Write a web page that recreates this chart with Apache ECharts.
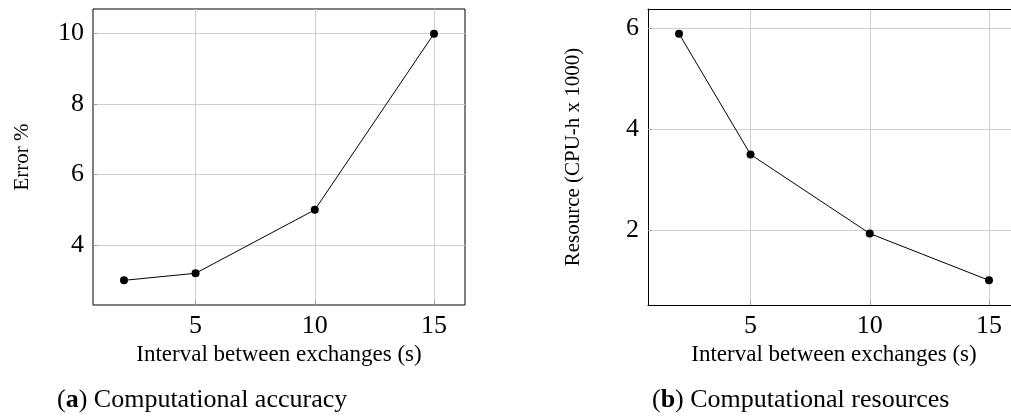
<!DOCTYPE html>
<html>
<head>
<meta charset="utf-8">
<script src="https://cdn.jsdelivr.net/npm/echarts@6/dist/echarts.min.js"></script>
<style>
html,body{margin:0;padding:0;background:#fff;}
#c{width:1011px;height:416px;}
</style>
</head>
<body>
<div id="c"></div>
<script>
const intervals = [2, 5, 10, 15];
const errorPct = [3.0, 3.2, 5.0, 10.0];
const resource = [5.9, 3.5, 1.93, 1.0];
const xTicks = [5, 10, 15];
const yTicksA = [4, 6, 8, 10];
const yTicksB = [2, 4, 6];
const xTitle = 'Interval between exchanges (s)';
const yTitleA = 'Error %';
const yTitleB = 'Resource (CPU-h x 1000)';
const captionA = ['a', 'Computational accuracy'];
const captionB = ['b', 'Computational resources'];

const FONT = '"Liberation Serif", "DejaVu Serif", serif';
const chart = echarts.init(document.getElementById('c'), null, {renderer: 'canvas'});

// x range: full axis 0.7..16.3 over 372px; right panel is cut by the page edge
const X_MIN = 0.7, X_MAX = 16.3, PLOT_W = 372, LEFT_B = 648;
const X_MAX_B = X_MIN + (X_MAX - X_MIN) * (1011 - LEFT_B) / PLOT_W;

function xAxisDef(idx, mx, showLine) {
  return {
    type: 'value', gridIndex: idx, min: X_MIN, max: mx,
    name: xTitle, nameLocation: 'middle', nameGap: 33,
    nameTextStyle: {fontFamily: FONT, fontSize: 23, color: '#000',
      padding: idx === 1 ? [0, 0, 0, (LEFT_B + PLOT_W - 1011)] : 0},
    axisLine: {show: showLine, onZero: false, lineStyle: {color: '#000', width: 1}},
    axisTick: {show: true, inside: true, length: 4, customValues: xTicks, lineStyle: {color: '#999'}},
    axisLabel: {customValues: xTicks, fontFamily: FONT, fontSize: 26, color: '#000', margin: 8},
    splitLine: {show: true, lineStyle: {color: '#cfcfcf', width: 1}}
  };
}
function yAxisDef(idx, mn, mx, ticks, name, gap, showLine) {
  return {
    type: 'value', gridIndex: idx, min: mn, max: mx,
    name: name, nameLocation: 'middle', nameGap: gap,
    nameTextStyle: {fontFamily: FONT, fontSize: 21, color: '#000'},
    axisLine: {show: showLine, onZero: false, lineStyle: {color: '#000', width: 1}},
    axisTick: {show: true, inside: true, length: 4, customValues: ticks, lineStyle: {color: '#999'}},
    axisLabel: {customValues: ticks, fontFamily: FONT, fontSize: 26, color: '#000', margin: 9},
    splitLine: {show: true, lineStyle: {color: '#cfcfcf', width: 1}}
  };
}
function seriesDef(idx, ys) {
  return {
    type: 'line', xAxisIndex: idx, yAxisIndex: idx,
    data: intervals.map((x, i) => [x, ys[i]]),
    symbol: 'circle', symbolSize: 8,
    itemStyle: {color: '#000'},
    lineStyle: {color: '#000', width: 1},
    animation: false, silent: true
  };
}
function caption(parts, left) {
  return {
    type: 'text', left: left, top: 387, silent: true,
    style: {
      text: '{n|(}{b|' + parts[0] + '}{n|) ' + parts[1] + '}',
      rich: {
        n: {fontFamily: FONT, fontSize: 26, fill: '#000'},
        b: {fontFamily: FONT, fontSize: 26, fontWeight: 'bold', fill: '#000'}
      }
    }
  };
}

const xa = xAxisDef(0, X_MAX, false);
const xb = xAxisDef(1, X_MAX_B, true);
const xbTop = {
  type: 'value', gridIndex: 1, min: X_MIN, max: X_MAX_B, position: 'top',
  axisLine: {show: true, onZero: false, lineStyle: {color: '#000', width: 1}},
  axisTick: {show: false}, axisLabel: {show: false}, splitLine: {show: false}
};

chart.setOption({
  animation: false,
  grid: [
    {left: 93, top: 9, width: PLOT_W, height: 296, show: true, borderColor: '#000', borderWidth: 1, backgroundColor: 'transparent'},
    {left: LEFT_B, top: 9, right: 0, height: 296, show: false}
  ],
  xAxis: [xa, xb, xbTop],
  yAxis: [
    yAxisDef(0, 2.3, 10.7, yTicksA, yTitleA, 60, false),
    yAxisDef(1, 0.51, 6.39, yTicksB, yTitleB, 64, true)
  ],
  series: [seriesDef(0, errorPct), seriesDef(1, resource)],
  graphic: [caption(captionA, 57), caption(captionB, 652)]
});
</script>
</body>
</html>
